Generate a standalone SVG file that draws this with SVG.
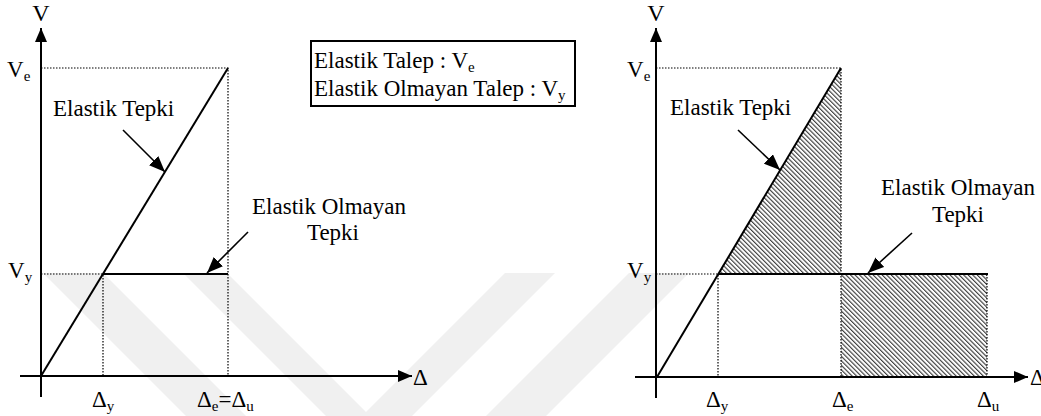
<svg xmlns="http://www.w3.org/2000/svg" width="1041" height="416" viewBox="0 0 1041 416" font-family="'Liberation Serif', Tinos, 'DejaVu Serif', 'Times New Roman', serif">
  <style>
    text { font-family: "Liberation Serif", Tinos, "DejaVu Serif", "Times New Roman", serif; font-size: 23px; fill: #000; }
    .sub { font-size: 15px; }
    .axis { stroke: #000; stroke-width: 2; fill: none; }
    .curve { stroke: #000; stroke-width: 2; fill: none; }
    .dot { stroke: #000; stroke-width: 1.2; stroke-dasharray: 1.5 1.5; fill: none; }
    .lead { stroke: #000; stroke-width: 1.6; fill: none; }
    .wm { fill: #f0f0f0; stroke: none; }
  </style>
  <defs>
    <marker id="ah" viewBox="0 0 14 12" refX="14" refY="6" markerWidth="14" markerHeight="12" markerUnits="userSpaceOnUse" orient="auto">
      <path d="M0,0 L14,6 L0,12 Z" fill="#000"/>
    </marker>
    <marker id="lh" viewBox="0 0 16 13" refX="16" refY="6.5" markerWidth="16" markerHeight="13" markerUnits="userSpaceOnUse" orient="auto">
      <path d="M0,0 L16,6.5 L0,13 Z" fill="#000"/>
    </marker>
    <pattern id="hatch" patternUnits="userSpaceOnUse" width="3.2" height="3.2" patternTransform="rotate(-45)">
      <line x1="0.6" y1="-1" x2="0.6" y2="5" stroke="#222" stroke-width="1"/>
    </pattern>
  </defs>

  <g id="watermark">
    <polygon class="wm" points="183,273 227,273 366,412 505,273 555,273 369,459"/>
    <polygon class="wm" points="43,273 103,273 366,536 629,273 689,273 366,596"/>
  </g>

  <g id="left-chart">
    <g id="left-axes">
      <line class="axis" x1="41" y1="397" x2="41" y2="28" marker-end="url(#ah)"/>
      <line class="axis" x1="20" y1="376" x2="412" y2="376" marker-end="url(#ah)"/>
      <text x="41" y="21" text-anchor="middle" style="font-size:24px">V</text>
      <text x="413" y="385">Δ</text>
    </g>
    <g id="left-guides">
      <polyline class="dot" points="41,68 228,68 228,376"/>
      <polyline class="dot" points="41,274 103,274 103,376"/>
    </g>
    <g id="left-curves">
      <line class="curve" x1="41" y1="376" x2="228" y2="68"/>
      <line class="curve" x1="103" y1="274" x2="228" y2="274"/>
    </g>
    <g id="left-labels">
      <text x="7" y="77">V<tspan class="sub" dy="4">e</tspan></text>
      <text x="8" y="278">V<tspan class="sub" dy="4">y</tspan></text>
      <text x="92" y="407">Δ<tspan class="sub" dy="4">y</tspan></text>
      <text x="197" y="407">Δ<tspan class="sub" dy="4">e</tspan><tspan dy="-4">=Δ</tspan><tspan class="sub" dy="4">u</tspan></text>
    </g>
    <g id="left-elastic-label">
      <text x="53" y="116">Elastik Tepki</text>
    </g>
    <g id="left-inelastic-label">
      <text x="329" y="214" text-anchor="middle">Elastik Olmayan</text>
      <text x="333" y="240" text-anchor="middle">Tepki</text>
    </g>
  </g>

  <g id="legend">
    <rect x="311" y="41" width="264" height="65" fill="#fff" stroke="#000" stroke-width="2"/>
    <text x="314" y="68">Elastik Talep : V<tspan class="sub" dy="4">e</tspan></text>
    <text x="314" y="96">Elastik Olmayan Talep : V<tspan class="sub" dy="4">y</tspan></text>
  </g>

  <g id="right-chart">
    <g id="right-hatch">
      <polygon points="718,274 841,68 841,274" fill="url(#hatch)"/>
      <rect x="841" y="274" width="146" height="102" fill="url(#hatch)"/>
    </g>
    <g id="right-axes">
      <line class="axis" x1="656" y1="398" x2="656" y2="28" marker-end="url(#ah)"/>
      <line class="axis" x1="635" y1="377" x2="1028" y2="377" marker-end="url(#ah)"/>
      <text x="656" y="21" text-anchor="middle" style="font-size:24px">V</text>
      <text x="1030" y="385">Δ</text>
    </g>
    <g id="right-guides">
      <polyline class="dot" points="656,68 841,68 841,377"/>
      <polyline class="dot" points="656,274 718,274 718,377"/>
      <line class="dot" x1="987" y1="274" x2="987" y2="377"/>
    </g>
    <g id="right-curves">
      <line class="curve" x1="657" y1="377" x2="841" y2="68"/>
      <line class="curve" x1="718" y1="274" x2="988" y2="274"/>
    </g>
    <g id="right-labels">
      <text x="627" y="77">V<tspan class="sub" dy="4">e</tspan></text>
      <text x="627" y="278">V<tspan class="sub" dy="4">y</tspan></text>
      <text x="706" y="407">Δ<tspan class="sub" dy="4">y</tspan></text>
      <text x="832" y="407">Δ<tspan class="sub" dy="4">e</tspan></text>
      <text x="977" y="407">Δ<tspan class="sub" dy="4">u</tspan></text>
    </g>
    <g id="right-elastic-label">
      <text x="670" y="115">Elastik Tepki</text>
    </g>
    <g id="right-inelastic-label">
      <text x="958" y="195" text-anchor="middle">Elastik Olmayan</text>
      <text x="958" y="222" text-anchor="middle">Tepki</text>
    </g>
  </g>

  <g id="connectors">
    <line class="lead" x1="123" y1="130" x2="165" y2="172" marker-end="url(#lh)"/>
    <line class="lead" x1="248" y1="232" x2="207" y2="273" marker-end="url(#lh)"/>
    <line class="lead" x1="738" y1="130" x2="780" y2="170" marker-end="url(#lh)"/>
    <line class="lead" x1="912" y1="233" x2="868" y2="273" marker-end="url(#lh)"/>
  </g>
</svg>
